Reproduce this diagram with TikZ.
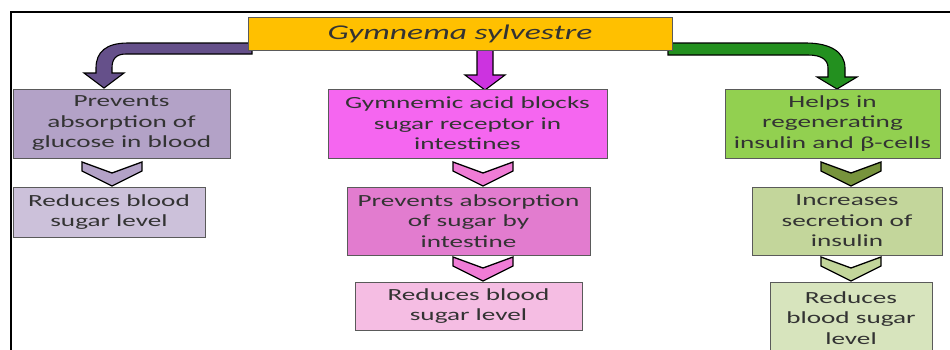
\documentclass[tikz,border=0pt]{standalone}
\usepackage{fontspec}
\setmainfont{Carlito}[FakeStretch=1.6]
\usetikzlibrary{calc}
\definecolor{gold}{HTML}{FFC000}
\definecolor{lavA}{HTML}{B3A2C7}
\definecolor{lavB}{HTML}{CCC1DA}
\definecolor{purpArrow}{HTML}{65508A}
\definecolor{magA}{HTML}{F566F0}
\definecolor{magB}{HTML}{E27CCF}
\definecolor{magC}{HTML}{F5BDE3}
\definecolor{magChev}{HTML}{F07CD6}
\definecolor{magArrow}{HTML}{CC33E0}
\definecolor{grA}{HTML}{92D050}
\definecolor{grB}{HTML}{C3D69B}
\definecolor{grC}{HTML}{D7E4BD}
\definecolor{grChev}{HTML}{77933C}
\definecolor{grArrow}{HTML}{23901F}
\definecolor{boxline}{HTML}{5A5A5A}
\definecolor{txt}{HTML}{333333}
\begin{document}
\begin{tikzpicture}[x=1pt,y=-1pt,
  box/.style={draw=boxline, line width=0.9pt, inner sep=0pt, align=center, text=txt,
    font=\fontsize{17}{20.5}\selectfont},
  blockarrow/.style={draw=black, line width=1.1pt, line join=miter},
  chevron/.pic={\draw[pic actions, line width=1.3pt, line join=miter]
    (-30,0) -- (0,11) -- (30,0) -- (30,9) -- (0,24) -- (-30,9) -- cycle;}]
\useasboundingbox (0,0) rectangle (950,349);
\fill[white] (0,0) rectangle (950,349);
\draw[line width=2pt] (11,352) -- (11,12) -- (952,12);

% block arrows (behind the title box)
\filldraw[blockarrow, fill=purpArrow]
  (252,43) -- (128,43) .. controls (106,43) and (96,52) .. (96,68) -- (96,73)
  -- (84,73) -- (104,88) -- (124,73) -- (112,73) -- (112,68)
  .. controls (112,59) and (116,54) .. (126,54) -- (252,54) -- cycle;
\filldraw[blockarrow, fill=magArrow]
  (477,48) -- (477,75) -- (465,75) -- (485,90) -- (505,75) -- (493,75) -- (493,48) -- cycle;
\filldraw[blockarrow, fill=grArrow]
  (668,43) -- (806,43) .. controls (830,43) and (845,52) .. (845,68) -- (845,77)
  -- (857,77) -- (837,89) -- (817,77) -- (828,77) -- (828,68)
  .. controls (828,60) and (822,55) .. (808,55) -- (668,55) -- cycle;

% title
\node[box, fill=gold, minimum width=424, minimum height=33,
  font=\fontsize{21}{24}\selectfont\itshape] (T) at (460,33.5) {Gymnema sylvestre};

% left column
\node[box, fill=lavA, minimum width=217, minimum height=69] (L1) at (121.5,123.5)
  {Prevents\\absorption of\\glucose in blood};
\node[box, fill=lavB, minimum width=192, minimum height=50] (L2) at (109,212)
  {Reduces blood\\sugar level};

% middle column
\node[box, fill=magA, minimum width=279, minimum height=69] (M1) at (467.5,123.5)
  {Gymnemic acid blocks\\sugar receptor in\\intestines};
\node[box, fill=magB, minimum width=243, minimum height=68] (M2) at (468.5,221)
  {Prevents absorption\\of sugar by\\intestine};
\node[box, fill=magC, minimum width=227, minimum height=48] (M3) at (468.5,306)
  {Reduces blood\\sugar level};

% right column
\node[box, fill=grA, minimum width=215, minimum height=69] (R1) at (832.5,123.5)
  {Helps in\\regenerating\\insulin and β-cells};
\node[box, fill=grB, minimum width=190, minimum height=68] (R2) at (847,221)
  {Increases\\secretion of\\insulin};
\node[box, fill=grC, minimum width=162, minimum height=72] (R3) at (851,318)
  {Reduces\\blood sugar\\level};

% chevrons
\pic[fill=lavA] at (112,162) {chevron};
\pic[fill=magChev] at (483,162) {chevron};
\pic[fill=magChev] at (483,257) {chevron};
\pic[fill=grChev] at (851,162) {chevron};
\pic[fill=grB] at (851,257) {chevron};
\end{tikzpicture}
\end{document}
